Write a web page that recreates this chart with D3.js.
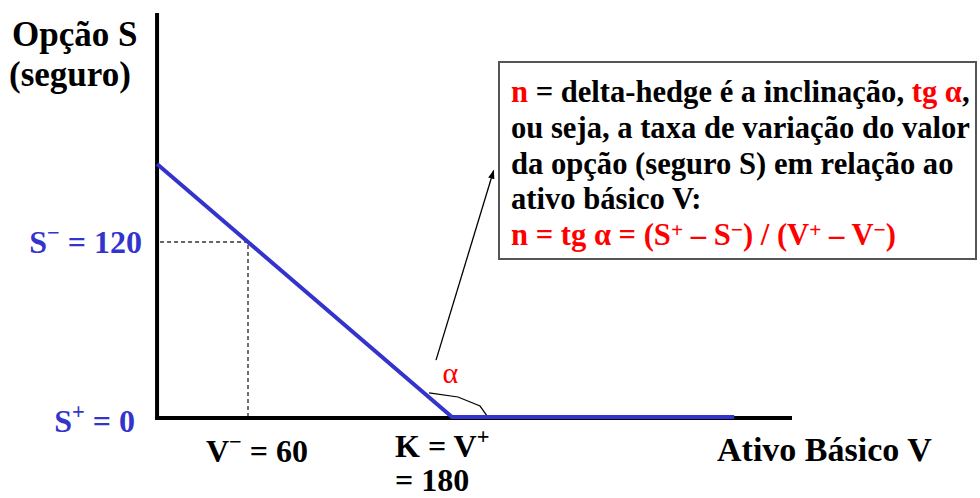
<!DOCTYPE html>
<html><head><meta charset="utf-8">
<script src="https://cdn.jsdelivr.net/npm/d3@7/dist/d3.min.js"></script>
<style>
html,body{margin:0;padding:0;background:#fff;}
</style></head>
<body><svg id="c" width="980" height="498"></svg>
<script>
// ---- data ----
const lineV = [6.5, 180, 346];     // Ativo Básico V
const lineS = [173.5, 0, 0];       // Opção S (seguro) = max(K - V, 0)
const K = 180;
const guideV = 60, guideS = 120;
const sTickVals = [120, 0];
const sTickLabels = [["S", "−", " = 120"], ["S", "+", " = 0"]];
const vTickVals = [60, 180];
const axisMaxV = 380, axisMaxS = 277;
const arcV = [166.5, 183.5, 196.5, 200.6];
const arcS = [16.5, 13.7, 7.5, 0.8];
const arrowV = [170.6, 204.5];
const arrowS = [39, 169];

const SERIF = "Liberation Serif";
const svg = d3.select("#c");
const x = d3.scaleLinear().domain([0, 360]).range([146, 758]);
const y = d3.scaleLinear().domain([0, 120]).range([417, 242]);
const blue = "#3434cc", red = "#ff0000";

const x0 = x(lineV[0]);

function T(sel){ return sel.append("text").attr("font-family",SERIF).attr("font-weight","bold"); }

// defs arrowhead
svg.append("defs").append("marker").attr("id","ah").attr("viewBox","0 0 10 10")
  .attr("refX",9).attr("refY",5).attr("markerWidth",7).attr("markerHeight",7)
  .attr("orient","auto").append("path").attr("d","M0,1.5L10,5L0,8.5Z").attr("fill","#000");

// dashed guides
svg.append("path").attr("d", `M${x0+3},${y(guideS)}H${x(guideV)}V${y(0)}`)
  .attr("fill","none").attr("stroke","#333").attr("stroke-width",1.4).attr("stroke-dasharray","4,3");

// axes
svg.append("line").attr("x1",x0).attr("x2",x0).attr("y1",y(axisMaxS)).attr("y2",y(0)+2)
  .attr("stroke","#000").attr("stroke-width",4);
svg.append("line").attr("x1",x0-2).attr("x2",x(axisMaxV)).attr("y1",y(0)+1).attr("y2",y(0)+1)
  .attr("stroke","#000").attr("stroke-width",4);

// angle arc
svg.append("path").attr("d", d3.line()(arcV.map((v,i)=>[x(v),y(arcS[i])])))
  .attr("fill","none").attr("stroke","#000").attr("stroke-width",1.2);

// payoff line
svg.append("path").attr("d", d3.line()(lineV.map((v,i)=>[x(v),y(lineS[i])])))
  .attr("fill","none").attr("stroke",blue).attr("stroke-width",4).attr("stroke-linejoin","miter");

// arrow
svg.append("line").attr("x1",x(arrowV[0])).attr("y1",y(arrowS[0]))
  .attr("x2",x(arrowV[1])).attr("y2",y(arrowS[1]))
  .attr("stroke","#000").attr("stroke-width",1.3).attr("marker-end","url(#ah)");

// alpha
T(svg).attr("x",x(179)).attr("y",y(23)).attr("text-anchor","middle")
  .attr("font-size",30).attr("fill",red).attr("font-weight","normal").text("α");

// y title
T(svg).attr("x",12).attr("y",46).attr("font-size",35).attr("fill","#000").text("Opção S");
T(svg).attr("x",9).attr("y",86).attr("font-size",35).attr("fill","#000").text("(seguro)");

function supText(t, parts, size){
  t.append("tspan").text(parts[0]);
  t.append("tspan").attr("font-size", size*0.7).attr("dy", -size*0.42).text(parts[1]);
  t.append("tspan").attr("dy", size*0.42).text(parts[2]);
}
sTickVals.forEach((s,i)=>{
  const t = T(svg).attr("x", i===0?142:135).attr("y", y(s)+ (i===0?11:15))
    .attr("text-anchor","end").attr("font-size",32).attr("fill",blue);
  supText(t, sTickLabels[i], 32);
});

// V tick labels
{
  const t = T(svg).attr("x", x(vTickVals[0])+9).attr("y",462).attr("text-anchor","middle")
    .attr("font-size",32).attr("fill","#000");
  supText(t, ["V","−"," = 60"], 32);
  const t2 = T(svg).attr("x", 395).attr("y",457).attr("font-size",32).attr("fill","#000");
  supText(t2, ["K = V","+",""], 32);
  T(svg).attr("x",395).attr("y",491).attr("font-size",32).attr("fill","#000").text("= 180");
}
T(svg).attr("x",717).attr("y",461).attr("font-size",34).attr("fill","#000").text("Ativo Básico V");

// annotation box
svg.append("rect").attr("x",499).attr("y",62).attr("width",477).attr("height",197)
  .attr("fill","#fff").attr("stroke","#555").attr("stroke-width",2);
const lines = [
  [["n",red],[" = delta-hedge é a inclinação, ","#000"],["tg α",red],[",","#000"]],
  [["ou seja, a taxa de variação do valor","#000"]],
  [["da opção (seguro S) em relação ao","#000"]],
  [["ativo básico V:","#000"]],
];
lines.forEach((ln,i)=>{
  const t = T(svg).attr("x",511).attr("y",102+i*35.8).attr("font-size",30.6);
  ln.forEach(p=>t.append("tspan").attr("fill",p[1]).text(p[0]));
});
{
  const fs=30.6;
  const t = T(svg).attr("x",511).attr("y",245).attr("font-size",fs).attr("fill",red);
  const parts = [["n = tg α = (S",0],["+",1],[" – S",0],["−",1],[") / (V",0],["+",1],[" – V",0],["−",1],[")",0]];
  parts.forEach((p,i)=>{
    const s = t.append("tspan").text(p[0]);
    if(p[1]) s.attr("font-size",fs*0.7).attr("dy",-fs*0.27);
    else if(i>0) s.attr("dy",fs*0.27);
  });
}
</script></body></html>
